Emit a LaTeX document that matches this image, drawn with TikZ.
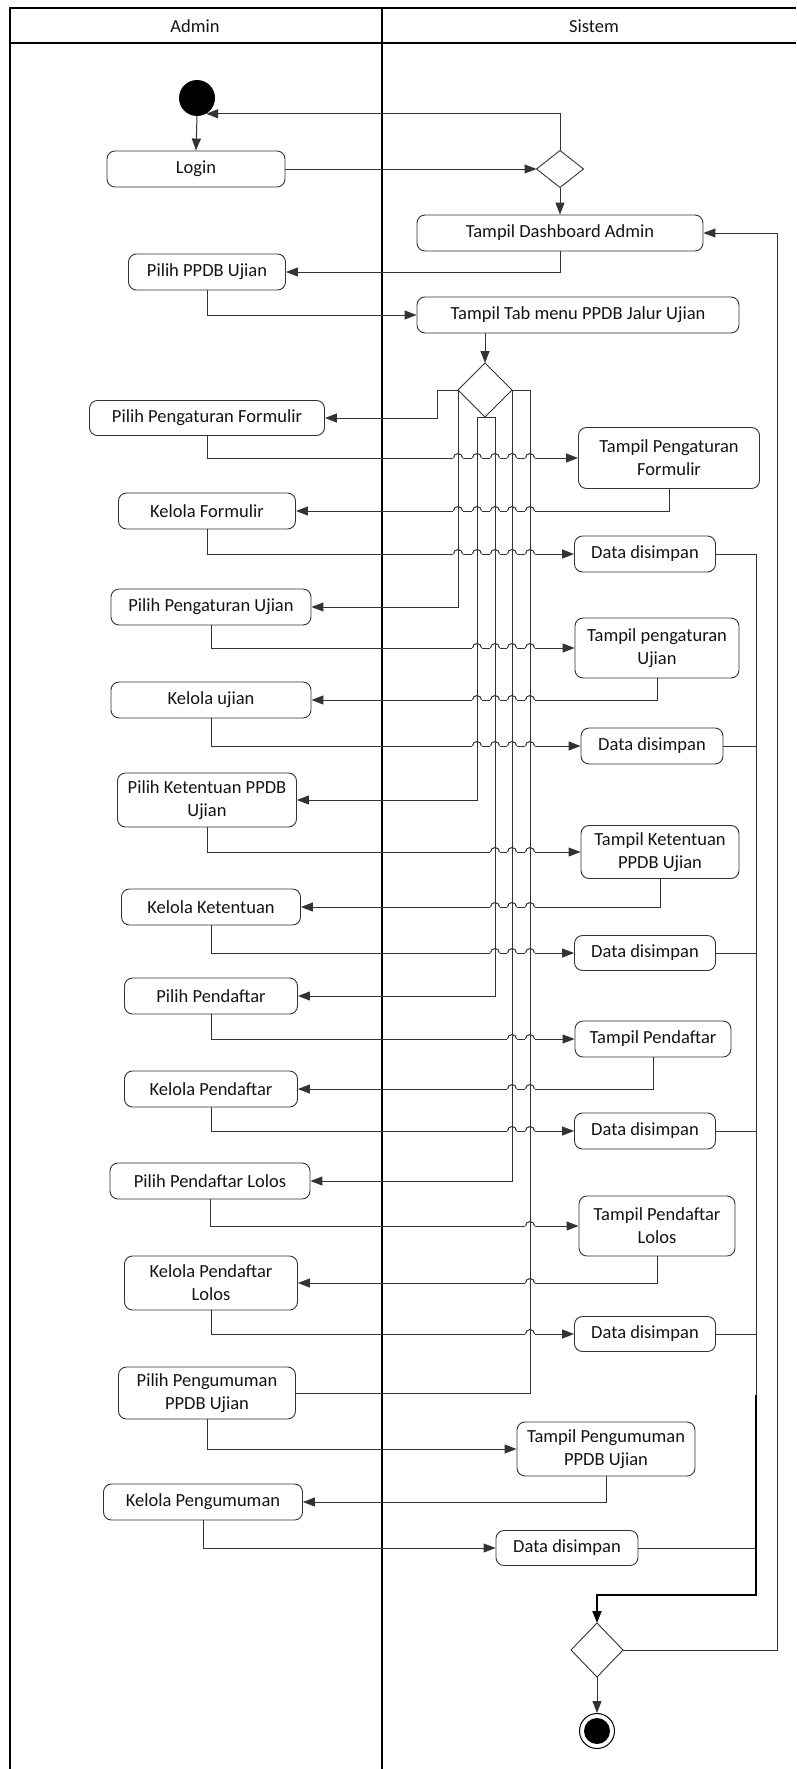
\documentclass[tikz,border=0pt]{standalone}
\usepackage{fontspec}
\setmainfont{Carlito}
\usetikzlibrary{shapes.geometric,arrows.meta}
\newcommand{\myhop}[2]{%
  \fill[white] (#1-5,#2-1.3) rectangle (#1+5,#2+1.3);
  \draw[conn] (#1-4.5,#2) arc[start angle=180,end angle=0,radius=4.5pt];}
\begin{document}
\begin{tikzpicture}[x=1pt,y=-1pt,
  lbl/.style={font=\fontsize{18.5}{23}\selectfont, text=black!92},
  box/.style={lbl, draw=black!80, line width=0.9pt, rounded corners=8pt, align=center, inner sep=2pt},
  conn/.style={draw=black!80, line width=1pt},
  arr/.style={conn, -{Triangle[length=12pt,width=9pt]}},
  frame/.style={line width=1.8pt, draw=black},
  dia/.style={draw=black!80, line width=0.9pt, shape=diamond, inner sep=0pt, outer sep=0pt},
]
\useasboundingbox (0,0) rectangle (796,1769);
% frame
\draw[frame] (796,8) -- (10,8) -- (10,1769);
\draw[frame] (10,43) -- (796,43);
\draw[frame] (382,8) -- (382,1769);
\node[lbl] (hadmin) at (195,26) {Admin};
\node[lbl] (hsis) at (594,26) {Sistem};

% start / end
\node[circle, fill=black, minimum size=36pt, inner sep=0pt] (start) at (197,98) {};
\node[circle, draw=black, line width=1pt, fill=white, minimum size=35pt, inner sep=0pt] (end) at (597,1731) {};
\node[circle, fill=black, minimum size=26pt, inner sep=0pt] (endin) at (end.center) {};

% decisions
\node[dia, minimum width=47pt, minimum height=37pt] (d1) at (560,169) {};
\node[dia, minimum width=54pt, minimum height=54pt] (d2) at (485,390) {};
\node[dia, minimum width=52pt, minimum height=54pt] (d3) at (597,1650) {};

% admin lane
\node[box, minimum width=178pt, minimum height=36pt] (p1) at (196,169) {Login};
\node[box, minimum width=157pt, minimum height=36pt] (p2) at (207,272) {Pilih PPDB Ujian};
\node[box, minimum width=235pt, minimum height=35pt] (p3) at (207,418) {Pilih Pengaturan Formulir};
\node[box, minimum width=177pt, minimum height=36pt] (p4) at (207,511) {Kelola Formulir};
\node[box, minimum width=200pt, minimum height=36pt] (p5) at (211,607) {Pilih Pengaturan Ujian};
\node[box, minimum width=200pt, minimum height=36pt] (p6) at (211,700) {Kelola ujian};
\node[box, minimum width=179pt, minimum height=54pt] (p7) at (207,800) {Pilih Ketentuan PPDB\\Ujian};
\node[box, minimum width=179pt, minimum height=36pt] (p8) at (211,907) {Kelola Ketentuan};
\node[box, minimum width=173pt, minimum height=36pt] (p9) at (211,996) {Pilih Pendaftar};
\node[box, minimum width=173pt, minimum height=36pt] (p10) at (211,1089) {Kelola Pendaftar};
\node[box, minimum width=200pt, minimum height=36pt] (p11) at (210,1181) {Pilih Pendaftar Lolos};
\node[box, minimum width=173pt, minimum height=54pt] (p12) at (211,1283) {Kelola Pendaftar\\Lolos};
\node[box, minimum width=177pt, minimum height=52pt] (p13) at (207,1393) {Pilih Pengumuman\\PPDB Ujian};
\node[box, minimum width=199pt, minimum height=36pt] (p14) at (203,1502) {Kelola Pengumuman};

% system lane
\node[box, minimum width=286pt, minimum height=36pt] (sa) at (560,233) {Tampil Dashboard Admin};
\node[box, minimum width=322pt, minimum height=36pt] (sb) at (578,315) {Tampil Tab menu PPDB Jalur Ujian};
\node[box, minimum width=181pt, minimum height=61pt] (sc) at (669,458) {Tampil Pengaturan\\Formulir};
\node[box, minimum width=141pt, minimum height=36pt] (sd) at (645,554) {Data disimpan};
\node[box, minimum width=164pt, minimum height=60pt] (se) at (657,648) {Tampil pengaturan\\Ujian};
\node[box, minimum width=142pt, minimum height=36pt] (sf) at (652,746) {Data disimpan};
\node[box, minimum width=158pt, minimum height=53pt] (sg) at (660,852) {Tampil Ketentuan\\PPDB Ujian};
\node[box, minimum width=141pt, minimum height=35pt] (sh) at (645,953) {Data disimpan};
\node[box, minimum width=156pt, minimum height=36pt] (si) at (653,1039) {Tampil Pendaftar};
\node[box, minimum width=141pt, minimum height=36pt] (sj) at (645,1131) {Data disimpan};
\node[box, minimum width=156pt, minimum height=60pt] (sk) at (657,1226) {Tampil Pendaftar\\Lolos};
\node[box, minimum width=141pt, minimum height=35pt] (sl) at (645,1334) {Data disimpan};
\node[box, minimum width=178pt, minimum height=54pt] (sm) at (606,1449) {Tampil Pengumuman\\PPDB Ujian};
\node[box, minimum width=142pt, minimum height=35pt] (sn) at (567,1548) {Data disimpan};

% top part
\draw[arr] (start.south) -- (p1.north);
\draw[arr] (p1.east) -- (d1.west);
\draw[arr] (d1.north) |- (start.-60);
\draw[arr] (d1.south) -- (sa.north);
\draw[arr] (sa.south) |- (p2.east);
\draw[arr] (p2.south) |- (sb.west);
\draw[arr] (sb.south -| d2.north) -- (d2.north);

% horizontal flows (with hops)
\draw[arr] (p3.south) |- (sc.west);
\draw[arr] (sc.south) |- (p4.east);
\draw[arr] (p4.south) |- (sd.west);
\draw[arr] (p5.south) |- (se.west);
\draw[arr] (se.south) |- (p6.east);
\draw[arr] (p6.south) |- (sf.west);
\draw[arr] (p7.south) |- (sg.west);
\draw[arr] (sg.south) |- (p8.east);
\draw[arr] (p8.south) |- (sh.west);
\draw[arr] (p9.south) |- (si.west);
\draw[arr] (si.south) |- (p10.east);
\draw[arr] (p10.south) |- (sj.west);
\draw[arr] (p11.south) |- (sk.west);
\draw[arr] (sk.south) |- (p12.east);
\draw[arr] (p12.south) |- (sl.west);
\draw[arr] (p13.south) |- (sm.west);
\draw[arr] (sm.south) |- (p14.east);
\draw[arr] (p14.south) |- (sn.west);

\foreach \yy in {458,511,554} {\foreach \xx in {458,477,495,512,530} {\myhop{\xx}{\yy}}}
\foreach \yy in {648,700,746} {\foreach \xx in {477,495,512,530} {\myhop{\xx}{\yy}}}
\foreach \yy in {852,907,953} {\foreach \xx in {495,512,530} {\myhop{\xx}{\yy}}}
\foreach \yy in {1039,1089,1131} {\foreach \xx in {512,530} {\myhop{\xx}{\yy}}}
\foreach \yy in {1226,1283,1334} {\myhop{530}{\yy}}

% branches from decision 2
\draw[arr] (d2.west) -- ++(-21,0) |- (p3.east);
\draw[arr] (d2.west) |- (p5.east);
\draw[arr] (d2.south) -- ++(-8,0) |- (p7.east);
\draw[arr] (d2.south) -- ++(10,0) |- (p9.east);
\draw[arr] (d2.east) |- (p11.east);
\draw[conn] (d2.east) -- ++(18,0) |- (p13.east);

% merge
\coordinate (mx) at (756,554);
\coordinate (mt) at (756,1395);
\coordinate (mj) at (756,1595);
\draw[conn] (sd.east) -- (mx);
\draw[conn] (sf.east) -- (sf.east -| mx);
\draw[conn] (sh.east) -- (sh.east -| mx);
\draw[conn] (sj.east) -- (sj.east -| mx);
\draw[conn] (sl.east) -- (sl.east -| mx);
\draw[conn] (sn.east) -- (sn.east -| mx);
\draw[conn] (mx) -- (mt);
\draw[conn, line width=1.8pt, draw=black, -{Triangle[length=12pt,width=9pt]}] (mt) -- (mj) -| (d3.north);

% loop back and end
\draw[arr] (d3.east) -- ++(154,0) |- (sa.east);
\draw[arr] (d3.south) -- (end.north);
\end{tikzpicture}
\end{document}
